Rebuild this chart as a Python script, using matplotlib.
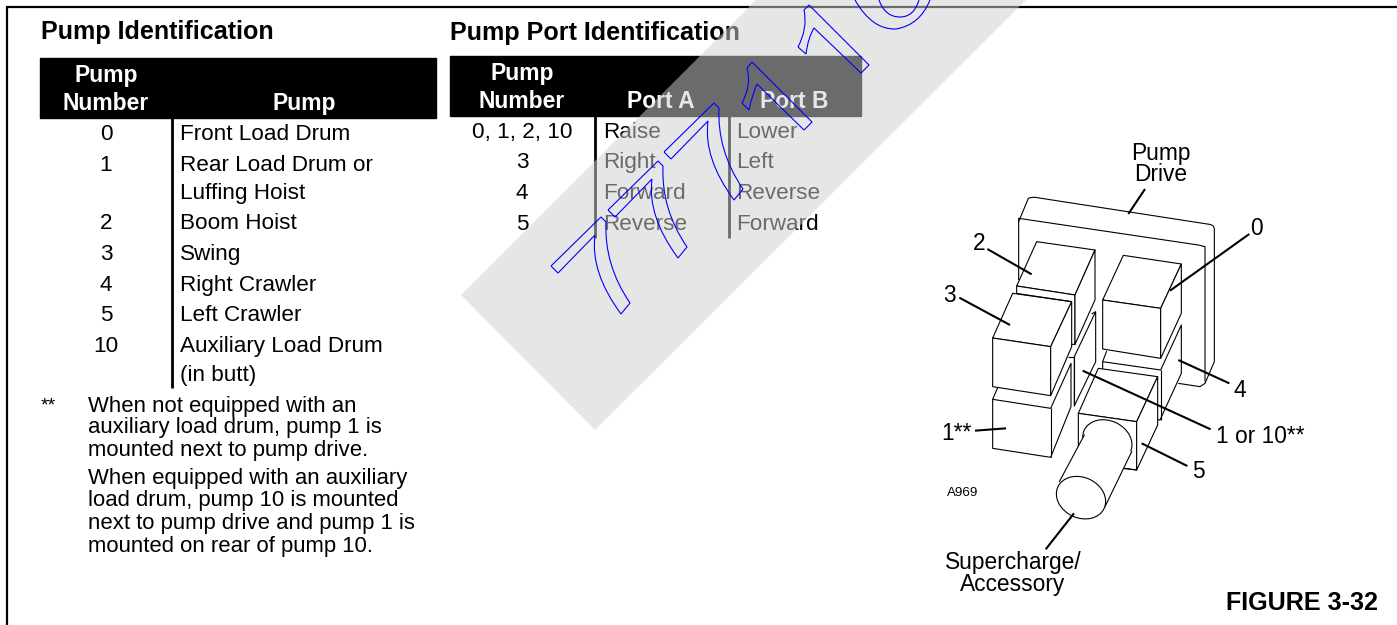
import matplotlib
matplotlib.use('Agg')
import matplotlib.pyplot as plt
from matplotlib.patches import Polygon, Ellipse, PathPatch, Rectangle
from matplotlib.path import Path

plt.rcParams['font.family'] = ['Liberation Sans', 'DejaVu Sans']

# table contents
pump_numbers = ['0', '1', '', '2', '3', '4', '5', '10', '']
pump_names = ['Front Load Drum', 'Rear Load Drum or', 'Luffing Hoist', 'Boom Hoist', 'Swing',
              'Right Crawler', 'Left Crawler', 'Auxiliary Load Drum', '(in butt)']
pump_base = [140, 171, 199, 229, 260, 291, 321, 352, 381]

port_numbers = ['0, 1, 2, 10', '3', '4', '5']
port_a = ['Raise', 'Right', 'Forward', 'Reverse']
port_b = ['Lower', 'Left', 'Reverse', 'Forward']
port_base = [138, 168, 199, 230]

note_lines = ['When not equipped with an', 'auxiliary load drum, pump 1 is', 'mounted next to pump drive.',
              'When equipped with an auxiliary', 'load drum, pump 10 is mounted',
              'next to pump drive and pump 1 is', 'mounted on rear of pump 10.']
note_base = [412, 433, 456, 484, 506, 529, 552]

FS = 16.2
HEAD = 16.5
TITLE = 18.1
NOTE = 15.9
LABEL = 16.4
LW = 0.8

fig = plt.figure(figsize=(13.97, 6.25), dpi=100)
ax = fig.add_axes([0, 0, 1, 1])
ax.set_xlim(0, 1397)
ax.set_ylim(625, 0)
ax.axis('off')


def txt(x, y, s, ha='left', bold=False, size=FS, color='black'):
    ax.text(x, y, s, ha=ha, va='baseline', fontsize=size, color=color,
            fontweight='bold' if bold else 'normal', zorder=3)


# page frame
ax.plot([7, 7, 1397], [625, 7, 7], color='black', lw=1.6, zorder=2, solid_joinstyle='miter')

# left table
txt(41, 39, 'Pump Identification', bold=True, size=TITLE)
ax.add_patch(Rectangle((40, 58), 396, 60, color='black', zorder=2))
txt(106, 82, 'Pump', ha='center', bold=True, color='white', size=HEAD)
txt(106, 110, 'Number', ha='center', bold=True, color='white', size=HEAD)
txt(304, 110, 'Pump', ha='center', bold=True, color='white', size=HEAD)
ax.plot([172, 172], [118, 388], color='black', lw=2, zorder=2, solid_capstyle='butt')
for n, name, y in zip(pump_numbers, pump_names, pump_base):
    txt(106, y, n, ha='center')
    txt(180, y, name)

# footnote
txt(41, 410, '**', size=14)
for line, y in zip(note_lines, note_base):
    txt(88, y, line, size=NOTE)

# right table
txt(450, 40, 'Pump Port Identification', bold=True, size=TITLE)
ax.add_patch(Rectangle((450, 56), 411, 60, color='black', zorder=2))
txt(522, 80, 'Pump', ha='center', bold=True, color='white', size=HEAD)
txt(522, 108, 'Number', ha='center', bold=True, color='white', size=HEAD)
txt(661, 108, 'Port A', ha='center', bold=True, color='white', size=HEAD)
txt(794, 108, 'Port B', ha='center', bold=True, color='white', size=HEAD)
ax.plot([595, 595], [116, 238], color='black', lw=2, zorder=2, solid_capstyle='butt')
ax.plot([729, 729], [116, 238], color='black', lw=2, zorder=2, solid_capstyle='butt')
for n, a, b, y in zip(port_numbers, port_a, port_b, port_base):
    txt(522, y, n, ha='center')
    txt(603, y, a)
    txt(736, y, b)

# grey watermark band
ax.add_patch(Polygon([(756, 0), (461, 295), (595, 430), (1026, 0)], closed=True,
                     facecolor='#cfcfcf', alpha=0.52, edgecolor='none', zorder=5))


# blue watermark outlines
def blue(verts, codes):
    ax.add_patch(PathPatch(Path(verts, codes), facecolor='none', edgecolor='#0000ff', lw=0.8, zorder=6))


M, L, C = Path.MOVETO, Path.LINETO, Path.CURVE3
seven = [(551, 266), (601, 217), (606, 222), (604, 265), (630, 303), (621, 314), (590, 272), (595, 235),
         (558, 273), (551, 266)]
seven_codes = [M, L, L, C, C, L, C, C, L, L]
for dx, dy in [(0, 0), (57, -56), (113, -114)]:
    blue([(x + dx, y + dy) for x, y in seven], seven_codes)

blue([(742, 103), (749, 110), (752, 95), (757, 84), (804, 130), (812, 122), (752, 62), (747, 68), (752, 85),
      (742, 103)], [M, L, C, C, L, L, L, L, C, C])
blue([(798, 47), (806, 54), (808, 38), (814, 28), (861, 73), (869, 65), (809, 5), (804, 10), (808, 28),
      (798, 47)], [M, L, C, C, L, L, L, L, C, C])
blue([(855, 0), (872, 30), (896, 29), (920, 25), (930, 0)], [M, C, C, C, C])
blue([(879, 0), (885, 17), (900, 17), (914, 17), (919, 0)], [M, C, C, C, C])


# pump drawing, traced in a 3x crop whose origin is (930, 130)
def z(points):
    return [(930 + x / 3, 130 + y / 3) for x, y in points]


def face(points, closed=True):
    ax.add_patch(Polygon(z(points), closed=closed, facecolor='white', edgecolor='black', lw=LW, zorder=2,
                         joinstyle='round'))


def edge(points, lw=LW):
    xy = z(points)
    ax.plot([p[0] for p in xy], [p[1] for p in xy], color='black', lw=lw, zorder=4 if lw > 1 else 2.5,
            solid_capstyle='butt')


# plate
ax.add_patch(PathPatch(Path(z([(266, 275), (295, 205), (300, 202), (315, 202), (838, 283), (853, 285),
                               (853, 298), (853, 695), (825, 760), (810, 770), (745, 760)]),
                            [M, L, C, C, L, C, C, L, L, L, L]),
                       facecolor='white', edgecolor='black', lw=LW, zorder=2))
edge([(266, 450), (266, 265), (805, 345), (825, 350), (825, 755)])

# pump 2
face([(260, 468), (320, 335), (495, 360), (435, 495)])
face([(260, 468), (435, 495), (435, 643), (260, 643)])
face([(495, 360), (495, 510), (435, 643), (435, 495)])
edge([(258, 490), (425, 515)])

# middle pumps
face([(497, 545), (497, 695), (433, 827), (433, 680)])
edge([(415, 680), (433, 680)])
edge([(433, 680), (433, 827)])
edge([(485, 552), (497, 545)])

# pump 4
face([(518, 695), (692, 720), (754, 585), (754, 730), (690, 870), (518, 840)])
edge([(692, 720), (692, 870)])
edge([(530, 663), (518, 695)])

# pump 0
face([(518, 510), (580, 376), (754, 402), (692, 535)])
face([(518, 510), (692, 535), (692, 685), (518, 657)])
face([(692, 535), (754, 402), (754, 550), (692, 685)])

# pump 1
face([(188, 808), (362, 835), (423, 700), (423, 830), (362, 982), (188, 955)])
edge([(362, 835), (362, 982)])
edge([(203, 773), (188, 808)])

# pump 3
face([(188, 624), (248, 490), (425, 515), (362, 650)])
face([(188, 624), (362, 650), (362, 797), (188, 770)])
face([(362, 650), (425, 515), (425, 650), (362, 797)])

# pump 5
face([(445, 850), (505, 715), (683, 740), (620, 875)])
face([(445, 850), (620, 875), (620, 1020), (445, 1000)])
face([(620, 875), (683, 740), (683, 885), (620, 1020)])
edge([(585, 1015), (620, 1020)])

# cylinder
front = (930 + 453 / 3, 340 + 473 / 3)
rear = (930 + 532 / 3, 340 + 303 / 3)
ax.add_patch(Ellipse(rear, 51, 40.5, angle=25, facecolor='white', edgecolor='black', lw=LW, zorder=3))
ax.add_patch(Polygon(z([(388, 1055), (463, 915), (605, 965), (525, 1130)]), closed=True, facecolor='white',
                     edgecolor='none', zorder=3.1))
for seg in [[(388, 1055), (463, 915)], [(525, 1130), (605, 965)]]:
    xy = z(seg)
    ax.plot([p[0] for p in xy], [p[1] for p in xy], color='black', lw=LW, zorder=3.2)
ax.add_patch(Ellipse(front, 51, 40.5, angle=25, facecolor='white', edgecolor='black', lw=LW, zorder=3.3))

# leader lines
for seg in [[(645, 177), (595, 252)], [(172, 357), (305, 433)], [(88, 503), (240, 585)],
            [(958, 312), (720, 482)], [(745, 690), (898, 760)], [(458, 722), (842, 898)],
            [(635, 940), (772, 1008)], [(135, 902), (228, 895)], [(432, 1150), (347, 1258)]]:
    edge(seg, lw=1.5)

# drawing labels
txt(1161, 160, 'Pump', ha='center', size=LABEL)
txt(1161, 181, 'Drive', ha='center', size=LABEL)
txt(973, 250, '2', size=LABEL)
txt(1250, 235, '0', size=LABEL)
txt(943, 302, '3', size=LABEL)
txt(1234, 397, '4', size=LABEL)
txt(941, 440, '1**', size=LABEL)
txt(1216, 443, '1 or 10**', size=LABEL)
txt(1192, 478, '5', size=LABEL)
txt(947, 496, 'A969', size=9.6)
txt(1013, 569, 'Supercharge/', ha='center', size=LABEL)
txt(1013, 591, 'Accessory', ha='center', size=LABEL)
txt(1378, 610, 'FIGURE 3-32', ha='right', bold=True, size=TITLE)

fig.savefig('out.png', dpi=100)
